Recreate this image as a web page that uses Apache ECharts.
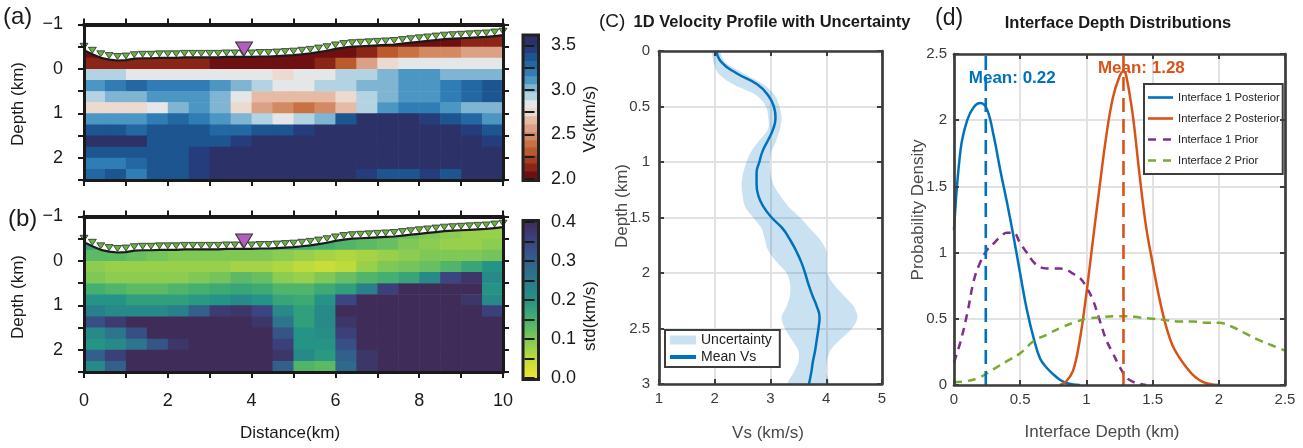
<!DOCTYPE html>
<html>
<head>
<meta charset="utf-8">
<script src="https://cdn.jsdelivr.net/npm/echarts@6/dist/echarts.min.js"></script>
<style>
html,body{margin:0;padding:0;background:#ffffff;}
#chart{width:1303px;height:448px;}
</style>
</head>
<body>
<div id="chart"></div>
<script>
// ===================== DATA =====================
// Panels (a)/(b): cell centres (km)
const distCenters = [0.25,0.75,1.25,1.75,2.25,2.75,3.25,3.75,4.25,4.75,5.25,5.75,6.25,6.75,7.25,7.75,8.25,8.75,9.25,9.75];
const depthCenters = [-0.625,-0.375,-0.125,0.125,0.375,0.625,0.875,1.125,1.375,1.625,1.875,2.125,2.375];
// Vs (km/s), one row per depth centre
const vsGrid = [
 [2.02,2.02,2.02,2.02,2.02,2.02,2.02,2.02,2.02,2.02,2.02,2.02,2.02,2.02,2.06,2.06,2.06,2.06,2.12,2.12],
 [2.06,2.02,2.02,2.02,2.02,2.02,2.02,2.02,2.02,2.02,2.02,2.02,2.06,2.16,2.3,2.39,2.47,2.51,2.56,2.56],
 [2.15,2.1,2.1,2.1,2.1,2.1,2.08,2.08,2.06,2.06,2.06,2.1,2.3,2.55,2.75,2.82,2.85,2.87,2.87,2.85],
 [2.9,2.9,2.88,2.88,2.88,2.85,2.85,2.83,2.8,2.78,2.8,2.85,2.9,2.93,3.02,3.1,3.1,3.05,3.02,3.0],
 [3.1,3.21,3.27,3.21,3.21,3.21,3.1,3.01,2.92,2.87,2.87,2.92,2.96,3.01,3.05,3.1,3.14,3.21,3.27,3.34],
 [2.96,3.01,3.05,3.1,3.1,3.1,3.01,2.83,2.69,2.65,2.65,2.69,2.78,2.92,3.05,3.1,3.14,3.21,3.27,3.4],
 [2.78,2.74,2.78,2.87,3.05,3.1,3.01,2.78,2.56,2.47,2.43,2.47,2.65,2.92,3.1,3.21,3.21,3.14,3.05,3.05],
 [3.1,3.14,3.14,3.21,3.27,3.21,3.14,3.01,2.92,2.87,2.92,3.05,3.34,3.54,3.58,3.54,3.47,3.4,3.27,3.14],
 [3.34,3.34,3.27,3.34,3.34,3.34,3.27,3.27,3.34,3.4,3.47,3.58,3.58,3.58,3.58,3.58,3.58,3.58,3.47,3.34],
 [3.54,3.58,3.54,3.4,3.34,3.4,3.4,3.47,3.54,3.58,3.58,3.58,3.58,3.58,3.58,3.58,3.58,3.58,3.58,3.47],
 [3.34,3.34,3.4,3.4,3.4,3.47,3.54,3.58,3.58,3.58,3.58,3.58,3.58,3.58,3.58,3.58,3.58,3.58,3.58,3.54],
 [3.21,3.21,3.27,3.34,3.4,3.47,3.54,3.58,3.58,3.58,3.58,3.58,3.58,3.58,3.58,3.58,3.58,3.58,3.54,3.58],
 [3.27,3.34,3.21,3.34,3.4,3.47,3.54,3.58,3.58,3.58,3.58,3.58,3.58,3.47,3.4,3.4,3.47,3.4,3.54,3.58]
];
// std (km/s)
const stdGrid = [
 [0.16,0.16,0.16,0.16,0.16,0.16,0.16,0.16,0.16,0.16,0.16,0.16,0.15,0.14,0.13,0.12,0.1,0.09,0.08,0.08],
 [0.17,0.16,0.16,0.16,0.16,0.16,0.16,0.16,0.16,0.16,0.16,0.15,0.14,0.13,0.12,0.1,0.09,0.08,0.08,0.09],
 [0.13,0.13,0.12,0.11,0.1,0.1,0.1,0.1,0.1,0.09,0.08,0.07,0.06,0.07,0.08,0.09,0.1,0.1,0.1,0.11],
 [0.09,0.08,0.08,0.08,0.08,0.08,0.08,0.07,0.07,0.06,0.05,0.04,0.05,0.08,0.1,0.11,0.12,0.14,0.17,0.2],
 [0.1,0.09,0.09,0.09,0.09,0.1,0.11,0.13,0.12,0.09,0.08,0.1,0.12,0.14,0.15,0.17,0.22,0.35,0.38,0.22],
 [0.15,0.14,0.13,0.13,0.14,0.15,0.16,0.17,0.16,0.14,0.14,0.16,0.18,0.24,0.36,0.4,0.4,0.4,0.4,0.2],
 [0.2,0.2,0.18,0.18,0.18,0.19,0.2,0.22,0.2,0.17,0.16,0.2,0.35,0.4,0.4,0.4,0.4,0.4,0.38,0.22],
 [0.24,0.22,0.22,0.22,0.24,0.3,0.37,0.38,0.35,0.22,0.18,0.22,0.4,0.4,0.4,0.4,0.4,0.4,0.4,0.36],
 [0.33,0.37,0.4,0.4,0.4,0.4,0.4,0.4,0.38,0.26,0.18,0.22,0.38,0.4,0.4,0.4,0.4,0.4,0.4,0.4],
 [0.22,0.26,0.33,0.4,0.4,0.4,0.4,0.4,0.4,0.32,0.2,0.21,0.36,0.4,0.4,0.4,0.4,0.4,0.4,0.4],
 [0.2,0.22,0.26,0.32,0.38,0.4,0.4,0.4,0.4,0.36,0.2,0.2,0.33,0.4,0.4,0.4,0.4,0.4,0.4,0.4],
 [0.3,0.36,0.4,0.4,0.4,0.4,0.4,0.4,0.4,0.38,0.22,0.19,0.3,0.38,0.4,0.4,0.4,0.4,0.4,0.4],
 [0.22,0.3,0.4,0.4,0.4,0.4,0.4,0.4,0.4,0.3,0.14,0.13,0.28,0.38,0.4,0.4,0.4,0.4,0.4,0.4]
];
// stations along the surface (distance km, elevation as depth km)
const stationX = [0,0.2,0.4,0.6,0.8,1.0,1.2,1.4,1.6,1.8,2.0,2.2,2.4,2.6,2.8,3.0,3.2,3.4,3.6,3.8,4.0,4.2,4.4,4.6,4.8,5.0,5.2,5.4,5.6,5.8,6.0,6.2,6.4,6.6,6.8,7.0,7.2,7.4,7.6,7.8,8.0,8.2,8.4,8.6,8.8,9.0,9.2,9.4,9.6,9.8,10.0];
const surfaceElev = [-0.42,-0.33,-0.25,-0.21,-0.19,-0.2,-0.23,-0.24,-0.24,-0.25,-0.25,-0.25,-0.26,-0.26,-0.26,-0.26,-0.26,-0.27,-0.27,-0.27,-0.27,-0.28,-0.28,-0.29,-0.3,-0.31,-0.33,-0.35,-0.38,-0.41,-0.45,-0.48,-0.5,-0.51,-0.52,-0.53,-0.54,-0.55,-0.57,-0.59,-0.61,-0.63,-0.65,-0.67,-0.68,-0.69,-0.7,-0.71,-0.72,-0.74,-0.76];
const sourcePos = [3.82, -0.27];
// colour scale (a)
const vsLevels = [2.0,2.09,2.18,2.27,2.36,2.44,2.53,2.62,2.71,2.8,2.89,2.98,3.07,3.16,3.24,3.33,3.42,3.51,3.6];
const vsTickLabels = [2.0,2.5,3.0,3.5];
const vsTickMarks = [2.0,2.25,2.5,2.75,3.0,3.25,3.5];
// colour scale (b)
const stdRange = [0.0,0.4];
const stdTickLabels = [0.0,0.1,0.2,0.3,0.4];
const stdTickMarks = [0.0,0.05,0.1,0.15,0.2,0.25,0.3,0.35,0.4];
const distTickLabels = [0,2,4,6,8,10];
const depthTickLabels = [-1,0,1,2];

// Panel (c)
const profileDepth = [0,0.1,0.2,0.3,0.4,0.5,0.6,0.7,0.8,0.9,1.0,1.1,1.2,1.3,1.4,1.5,1.6,1.7,1.8,1.9,2.0,2.1,2.2,2.3,2.4,2.5,2.6,2.7,2.8,2.9,3.0];
const meanVs  = [2.03,2.12,2.39,2.76,2.96,3.06,3.09,3.05,2.96,2.86,2.80,2.75,2.75,2.78,2.87,3.02,3.22,3.35,3.46,3.55,3.62,3.68,3.75,3.83,3.88,3.86,3.83,3.80,3.76,3.73,3.69];
const lowerVs = [1.96,1.98,2.06,2.33,2.75,2.92,2.96,2.96,2.81,2.66,2.57,2.51,2.48,2.50,2.54,2.69,2.84,2.90,2.96,3.11,3.29,3.35,3.35,3.29,3.20,3.26,3.38,3.50,3.50,3.41,3.32];
const upperVs = [2.08,2.18,2.51,2.87,3.08,3.16,3.20,3.17,3.11,3.02,2.99,3.00,3.05,3.17,3.32,3.53,3.71,3.89,4.00,4.01,4.02,4.13,4.31,4.49,4.56,4.46,4.25,4.07,4.01,4.00,4.04];

// Panel (d)
const post1X = [0,0.05,0.1,0.15,0.2,0.25,0.3,0.35,0.4,0.45,0.5,0.55,0.6,0.65,0.7,0.75,0.8,0.85,0.9,0.95];
const post1Y = [1.17,1.78,2.0,2.1,2.13,2.08,1.88,1.62,1.38,1.12,0.84,0.57,0.36,0.2,0.13,0.08,0.04,0.015,0.003,0];
const post2X = [0.8,0.85,0.9,0.95,1.0,1.05,1.1,1.15,1.2,1.25,1.28,1.3,1.35,1.4,1.45,1.5,1.55,1.6,1.65,1.7,1.75,1.8,1.85,1.9,1.95,2.0];
const post2Y = [0,0.03,0.11,0.34,0.69,1.1,1.5,1.88,2.17,2.33,2.37,2.34,2.04,1.6,1.2,0.92,0.66,0.45,0.3,0.21,0.14,0.08,0.04,0.015,0.003,0];
const prior1X = [0,0.05,0.1,0.15,0.2,0.25,0.3,0.35,0.4,0.45,0.5,0.55,0.6,0.65,0.7,0.75,0.8,0.85,0.9,0.95,1.0,1.05,1.1,1.15,1.2,1.25,1.3,1.35,1.4,1.45];
const prior1Y = [0.17,0.33,0.54,0.79,0.93,1.02,1.07,1.12,1.15,1.15,1.07,1.0,0.93,0.89,0.88,0.88,0.88,0.87,0.84,0.81,0.74,0.64,0.49,0.34,0.24,0.14,0.06,0.025,0.01,0];
const prior2X = [0,0.1,0.2,0.3,0.4,0.5,0.6,0.7,0.8,0.9,1.0,1.1,1.2,1.3,1.4,1.5,1.6,1.7,1.8,1.9,2.0,2.1,2.2,2.3,2.4,2.5];
const prior2Y = [0.02,0.03,0.06,0.12,0.18,0.24,0.33,0.38,0.43,0.47,0.5,0.51,0.52,0.52,0.51,0.5,0.49,0.48,0.48,0.47,0.47,0.44,0.39,0.34,0.3,0.26];
const meanLineX = [0.24, 1.28];
const meanValues = [0.22, 1.28];
const seriesNamesD = ['Interface 1 Posterior','Interface 2 Posterior','Interface 1 Prior','Interface 2 Prior'];

// ===================== STYLE =====================
const FONT = "'Liberation Sans', Arial, Helvetica, sans-serif";
const INK = '#1a1a1a';
const FRAME = '#3d3d3d';
const TICKTXT = '#3a3a3a';
const BLUE = '#0072BD', ORANGE = '#D95319', PURPLE = '#7E2F8E', GREEN = '#77AC30';
const BAND = 'rgba(0,114,189,0.21)';
const vsColors = ['#6e0f12','#8a2518','#a5401f','#bb5a2c','#c87244','#d38962','#dca086','#e5bba5','#ecd9cf','#e4e6e7','#b4d3e2','#7fb4d2','#4c96c3','#2f7db4','#2468a3','#1d5591','#253d7c','#2c3168'];
const stdStops = [[0.00,'#f2e630'],[0.05,'#bddb3a'],[0.10,'#80c856'],[0.15,'#44b06f'],[0.20,'#259385'],[0.25,'#2a7a8c'],[0.30,'#335f8b'],[0.35,'#3b4582'],[0.40,'#3f2c59']];
const ICON_SOLID = 'path://M0,0L25,0L25,2.6L0,2.6Z';
const ICON_DASH = 'path://M0,0L8,0L8,2.6L0,2.6Z M15,0L23,0L23,2.6L15,2.6Z M24.99,0L25,0L25,2.6L24.99,2.6Z';
const ICON_THICK = 'path://M0,0L26,0L26,4L0,4Z';

function vsColor(v){ for(let i=vsColors.length-1;i>=0;i--){ if(v>=vsLevels[i]) return vsColors[i]; } return vsColors[0]; }
function hexToRgb(h){ const n=parseInt(h.slice(1),16); return [(n>>16)&255,(n>>8)&255,n&255]; }
function stdColor(v){
  const lo=stdStops[0][0], hi=stdStops[stdStops.length-1][0];
  v=Math.max(lo,Math.min(hi,v));
  for(let i=0;i<stdStops.length-1;i++){
    const a=stdStops[i], b=stdStops[i+1];
    if(v<=b[0]+1e-9){ const t=(v-a[0])/(b[0]-a[0]); const ca=hexToRgb(a[1]), cb=hexToRgb(b[1]);
      return 'rgb('+Math.round(ca[0]+(cb[0]-ca[0])*t)+','+Math.round(ca[1]+(cb[1]-ca[1])*t)+','+Math.round(ca[2]+(cb[2]-ca[2])*t)+')'; }
  }
  return stdStops[stdStops.length-1][1];
}
function cells(grid){ const out=[]; depthCenters.forEach((d,r)=>distCenters.forEach((x,c)=>out.push([x,d,grid[r][c]]))); return out; }
const cellW = distCenters[1]-distCenters[0];
const cellH = depthCenters[1]-depthCenters[0];
function heatRender(colorFn){
  return function(params, api){
    const x=api.value(0), d=api.value(1), v=api.value(2);
    const a=api.coord([x-cellW/2, d-cellH/2]), b=api.coord([x+cellW/2, d+cellH/2]);
    return {type:'rect', shape:{x:Math.min(a[0],b[0]), y:Math.min(a[1],b[1]), width:Math.abs(b[0]-a[0])+0.6, height:Math.abs(b[1]-a[1])+0.6}, style:{fill:colorFn(v)}};
  };
}
const fmtDepth = v => (v<0 ? '\u2212'+Math.abs(v) : String(v));

// ===================== AXES =====================
const grids = [
  {left:84, top:24.5, width:419, height:155.5},
  {left:524.5, top:36.5, width:12.5, height:142.5, show:true, borderColor:'#222', borderWidth:6, backgroundColor:'transparent'},
  {left:84, top:216.5, width:419, height:155.5},
  {left:524.5, top:222, width:12.5, height:156, show:true, borderColor:'#222', borderWidth:6, backgroundColor:'transparent'},
  {left:659, top:51, width:223, height:333},
  {left:954, top:54, width:331, height:331}
];
grids.forEach(g=>{ g.outerBoundsMode='none'; g.containLabel=false; });
const xAxes=[], yAxes=[];
const addX=o=>{xAxes.push(o);return xAxes.length-1;};
const addY=o=>{yAxes.push(o);return yAxes.length-1;};
function gmt(extra, lineW){ return Object.assign({type:'value', z:10, splitLine:{show:false},
  axisLine:{show:true,onZero:false,lineStyle:{color:INK,width:lineW||3}},
  axisTick:{show:true,inside:false,length:6,lineStyle:{color:INK,width:2}},
  axisLabel:{show:false}}, extra); }
const depthLabel = {show:true, customValues:depthTickLabels, formatter:fmtDepth, fontSize:18, color:INK, margin:21, fontFamily:FONT};

// (a)
const ax0 = addX(gmt({gridIndex:0,position:'bottom',min:0,max:10,interval:1}));
addX(gmt({gridIndex:0,position:'top',min:0,max:10,interval:1},4));
const ay0 = addY(gmt({gridIndex:0,position:'left',min:-1,max:2.5,interval:0.5,inverse:true,axisLabel:depthLabel}));
addY(gmt({gridIndex:0,position:'right',min:-1,max:2.5,interval:0.5,inverse:true}));
// (a) colorbar
const acx = addX({type:'value',gridIndex:1,min:0,max:1,show:false});
const acy = addY({type:'value',gridIndex:1,position:'right',min:vsLevels[0],max:vsLevels[vsLevels.length-1],z:10,
  axisLine:{show:false}, splitLine:{show:false},
  axisTick:{show:true,inside:false,length:10,customValues:vsTickMarks,lineStyle:{color:INK,width:2}},
  axisLabel:{show:true,customValues:vsTickLabels,formatter:v=>v.toFixed(1),fontSize:18,color:INK,margin:14,fontFamily:FONT}});
// (b)
const bx0 = addX(gmt({gridIndex:2,position:'bottom',min:0,max:10,interval:1,
  axisLabel:{show:true,customValues:distTickLabels,fontSize:18,color:INK,margin:20,fontFamily:FONT}}));
addX(gmt({gridIndex:2,position:'top',min:0,max:10,interval:1},4));
const by0 = addY(gmt({gridIndex:2,position:'left',min:-1,max:2.5,interval:0.5,inverse:true,axisLabel:depthLabel}));
addY(gmt({gridIndex:2,position:'right',min:-1,max:2.5,interval:0.5,inverse:true}));
// (b) colorbar
const bcx = addX({type:'value',gridIndex:3,min:0,max:1,show:false});
const bcy = addY({type:'value',gridIndex:3,position:'right',min:stdRange[0],max:stdRange[1],z:10,
  axisLine:{show:false}, splitLine:{show:false},
  axisTick:{show:true,inside:false,length:10,customValues:stdTickMarks,lineStyle:{color:INK,width:2}},
  axisLabel:{show:true,customValues:stdTickLabels,formatter:v=>v.toFixed(1),fontSize:18,color:INK,margin:14,fontFamily:FONT}});

// (c)/(d) matlab-like
function mat(extra, labels, margin){ return Object.assign({type:'value', z:10, splitLine:{show:false},
  axisLine:{show:true,onZero:false,lineStyle:{color:FRAME,width:2.7}},
  axisTick:{show:true,inside:true,length:5,lineStyle:{color:FRAME,width:2}},
  axisLabel:{show:!!labels,fontSize:15,color:TICKTXT,margin:margin||6,fontFamily:FONT}}, extra); }
function gridLines(extra){ return Object.assign({type:'value', z:0, axisLine:{show:false}, axisTick:{show:false}, axisLabel:{show:false},
  splitLine:{show:true,lineStyle:{color:'#e2e2e2',width:2}}}, extra); }
const cx0 = addX(mat({gridIndex:4,position:'bottom',min:1,max:5,interval:1},true,7));
addX(mat({gridIndex:4,position:'top',min:1,max:5,interval:1}));
addX(gridLines({gridIndex:4,position:'bottom',min:1,max:5,interval:1}));
const cy0 = addY(mat({gridIndex:4,position:'left',min:0,max:3,interval:0.5,inverse:true},true,9));
addY(mat({gridIndex:4,position:'right',min:0,max:3,interval:0.5,inverse:true}));
addY(gridLines({gridIndex:4,position:'left',min:0,max:3,interval:0.5,inverse:true}));

const dx0 = addX(mat({gridIndex:5,position:'bottom',min:0,max:2.5,interval:0.5},true,7));
addX(mat({gridIndex:5,position:'top',min:0,max:2.5,interval:0.5}));
addX(gridLines({gridIndex:5,position:'bottom',min:0,max:2.5,interval:0.5}));
const dy0 = addY(mat({gridIndex:5,position:'left',min:0,max:2.5,interval:0.5},true,7));
addY(mat({gridIndex:5,position:'right',min:0,max:2.5,interval:0.5}));
addY(gridLines({gridIndex:5,position:'left',min:0,max:2.5,interval:0.5}));

// ===================== SERIES =====================
const INV_TRI = 'path://M0,0L10,0L5,8Z';
const surfacePts = stationX.map((x,i)=>[x,surfaceElev[i]]);
function sectionSeries(xi, yi, grid, colorFn){
  return [
    {type:'custom', xAxisIndex:xi, yAxisIndex:yi, data:cells(grid), renderItem:heatRender(colorFn), z:1, clip:true, silent:true},
    {type:'line', xAxisIndex:xi, yAxisIndex:yi, data:surfacePts, symbol:'none', lineStyle:{color:INK,width:2.2},
      areaStyle:{color:'#ffffff',opacity:1,origin:'start'}, z:3, silent:true},
    {type:'scatter', xAxisIndex:xi, yAxisIndex:yi, data:surfacePts, symbol:INV_TRI, symbolSize:[8,6], symbolOffset:[0,-4],
      itemStyle:{color:'#66b342',borderColor:INK,borderWidth:0.7,opacity:1}, z:4, silent:true},
    {type:'scatter', xAxisIndex:xi, yAxisIndex:yi, data:[sourcePos], symbol:INV_TRI, symbolSize:[17,14], symbolOffset:[0,-8],
      itemStyle:{color:'#b15ebd',borderColor:'#333',borderWidth:1,opacity:1}, z:5, silent:true}
  ];
}
const series = [];
series.push(...sectionSeries(ax0, ay0, vsGrid, vsColor));
series.push({type:'custom', xAxisIndex:acx, yAxisIndex:acy, silent:true, z:2,
  data: vsColors.map((c,i)=>[vsLevels[i], vsLevels[i+1], i]),
  renderItem:function(params, api){
    const a=api.coord([0, api.value(0)]), b=api.coord([1, api.value(1)]);
    return {type:'rect', shape:{x:a[0], y:Math.min(a[1],b[1]), width:b[0]-a[0], height:Math.abs(b[1]-a[1])+0.5}, style:{fill:vsColors[api.value(2)]}};
  }});
series.push(...sectionSeries(bx0, by0, stdGrid, stdColor));
series.push({type:'custom', xAxisIndex:bcx, yAxisIndex:bcy, silent:true, z:2, data:[[0.5,0.2]],
  renderItem:function(params, api){
    const a=api.coord([0, stdRange[0]]), b=api.coord([1, stdRange[1]]);
    return {type:'rect', shape:{x:a[0], y:b[1], width:b[0]-a[0], height:a[1]-b[1]},
      style:{fill:{type:'linear',x:0,y:1,x2:0,y2:0,global:false,
        colorStops:stdStops.map(s=>({offset:(s[0]-stdRange[0])/(stdRange[1]-stdRange[0]), color:s[1]}))}}};
  }});
// (c)
series.push({type:'custom', name:'Uncertainty', xAxisIndex:cx0, yAxisIndex:cy0, data:[[3,1.5]], silent:true, z:2,
  itemStyle:{color:BAND},
  renderItem:function(params, api){
    const pts=[];
    for(let i=0;i<profileDepth.length;i++) pts.push(api.coord([upperVs[i], profileDepth[i]]));
    for(let i=profileDepth.length-1;i>=0;i--) pts.push(api.coord([lowerVs[i], profileDepth[i]]));
    return {type:'polygon', shape:{points:pts, smooth:0.3}, style:{fill:BAND}};
  }});
series.push({type:'line', name:'Mean Vs', xAxisIndex:cx0, yAxisIndex:cy0, data:meanVs.map((v,i)=>[v,profileDepth[i]]),
  smooth:true, symbol:'none', lineStyle:{color:BLUE,width:2.5}, itemStyle:{color:BLUE}, z:3, silent:true});
// (d)
const dCurves = [[post1X,post1Y,BLUE,'solid'],[post2X,post2Y,ORANGE,'solid'],[prior1X,prior1Y,PURPLE,[8,6]],[prior2X,prior2Y,GREEN,[8,6]]];
const dSeriesStart = series.length;
dCurves.forEach((c,k)=>series.push({type:'line', name:seriesNamesD[k], xAxisIndex:dx0, yAxisIndex:dy0,
  data:c[0].map((x,i)=>[x,c[1][i]]), smooth:0.4, symbol:'none', lineStyle:{color:c[2],width:2.5,type:c[3]},
  itemStyle:{color:c[2]}, z:3, silent:true}));
[BLUE, ORANGE].forEach((col,k)=>series.push({type:'line', name:'meanline'+k, xAxisIndex:dx0, yAxisIndex:dy0,
  data:[[meanLineX[k],0],[meanLineX[k],2.5]], symbol:'none', lineStyle:{color:col,width:2.6,type:[14,7]}, z:4, silent:true}));

// ===================== OPTION =====================
const option = {
  animation:false,
  textStyle:{fontFamily:FONT},
  grid:grids, xAxis:xAxes, yAxis:yAxes, series:series,
  legend:[
    {data:[{name:'Uncertainty',icon:'rect'},{name:'Mean Vs',icon:ICON_THICK}], orient:'vertical', left:665, top:330,
     itemWidth:26, itemHeight:9, itemGap:3, padding:[3,8,3,5], borderColor:FRAME, borderWidth:2, borderRadius:0,
     backgroundColor:'#ffffff', selectedMode:false,
     textStyle:{fontSize:14,color:'#222',fontFamily:FONT}},
    {data:seriesNamesD.map((n,k)=>({name:n, icon: k<2 ? ICON_SOLID : ICON_DASH})), orient:'vertical', left:1144, top:84,
     itemWidth:25, itemHeight:14, itemGap:10, padding:[8,3,8,4], borderColor:FRAME, borderWidth:2, borderRadius:0,
     backgroundColor:'#ffffff', selectedMode:false,
     textStyle:{fontSize:11.3,color:'#222',fontFamily:FONT}}
  ]
};
const chart = echarts.init(document.getElementById('chart'), null, {renderer:'canvas'});
chart.setOption(option);

function txt(id, x, y, text, font, fill, opts){
  opts = opts||{};
  return {type:'text', id:id, x:x, y:y, rotation:opts.rot||0, z:100,
    style:{text:text, font:font, fill:fill, align:opts.align||'center', verticalAlign:'middle',
      textAlign:opts.align||'center', textVerticalAlign:'middle'}};
}
const R = Math.PI/2;
const m1 = chart.convertToPixel({seriesIndex:dSeriesStart}, [0.44, 2.32]);
const m2 = chart.convertToPixel({seriesIndex:dSeriesStart}, [1.415, 2.39]);
const elements = [
  txt('ta', 3, 17.5, '(a)', '24px '+FONT, INK, {align:'left'}),
  txt('tb', 8, 219, '(b)', '24px '+FONT, INK, {align:'left'}),
  txt('dA', 18, 104, 'Depth (km)', '17px '+FONT, INK, {rot:R}),
  txt('dB', 18, 297, 'Depth (km)', '17px '+FONT, INK, {rot:R}),
  txt('dist', 290, 433, 'Distance(km)', '17px '+FONT, INK),
  txt('vs', 590, 119, 'Vs(km/s)', '17px '+FONT, INK, {rot:R}),
  txt('std', 590, 316, 'std(km/s)', '17px '+FONT, INK, {rot:R}),
  txt('tc', 599, 22, '(C)', '19px '+FONT, INK, {align:'left'}),
  txt('titc', 772, 22, '1D Velocity Profile with Uncertainty', 'bold 16.5px '+FONT, INK),
  txt('yc', 622, 206, 'Depth (km)', '17px '+FONT, '#4a4a4a', {rot:R}),
  txt('xc', 768, 433, 'Vs (km/s)', '17px '+FONT, '#4a4a4a'),
  txt('td', 935, 19, '(d)', '23px '+FONT, INK, {align:'left'}),
  txt('titd', 1118, 23, 'Interface Depth Distributions', 'bold 16.5px '+FONT, INK),
  txt('yd', 918, 210, 'Probability Density', '17px '+FONT, '#4a4a4a', {rot:R}),
  txt('xd', 1102, 432, 'Interface Depth (km)', '17px '+FONT, '#4a4a4a'),
  txt('mean1', m1[0], m1[1], 'Mean: '+meanValues[0].toFixed(2), 'bold 17px '+FONT, BLUE),
  txt('mean2', m2[0], m2[1], 'Mean: '+meanValues[1].toFixed(2), 'bold 17px '+FONT, ORANGE)
];
chart.setOption({graphic:{elements:elements}});
</script>
</body>
</html>
